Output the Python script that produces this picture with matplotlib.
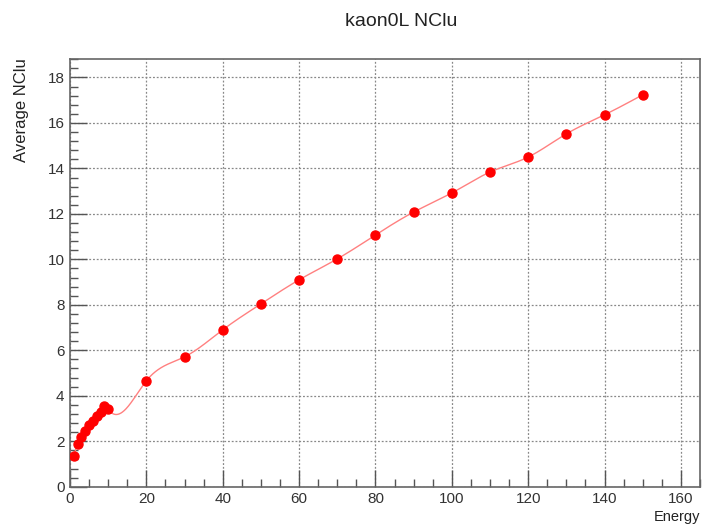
import numpy as np
import matplotlib
matplotlib.use('Agg')
import matplotlib.pyplot as plt
from matplotlib.ticker import MultipleLocator

plt.rcParams['font.family'] = ['Liberation Sans', 'DejaVu Sans']

energy = [1, 2, 3, 4, 5, 6, 7, 8, 9, 10,
          20, 30, 40, 50, 60, 70, 80, 90, 100, 110, 120, 130, 140, 150]
avg_nclu = [1.35, 1.9, 2.2, 2.45, 2.7, 2.9, 3.1, 3.3, 3.55, 3.4,
            4.66, 5.71, 6.9, 8.04, 9.1, 10.02, 11.07, 12.08, 12.92, 13.84, 14.5, 15.52, 16.36, 17.24]


def natural_spline(x, y, n=1500):
    # smooth curve through the points, like ROOT's "C" draw option
    x = np.asarray(x, float)
    y = np.asarray(y, float)
    h = np.diff(x)
    m = len(x)
    A = np.zeros((m, m))
    b = np.zeros(m)
    A[0, 0] = A[-1, -1] = 1.0
    for i in range(1, m - 1):
        A[i, i - 1] = h[i - 1]
        A[i, i] = 2 * (h[i - 1] + h[i])
        A[i, i + 1] = h[i]
        b[i] = 6 * ((y[i + 1] - y[i]) / h[i] - (y[i] - y[i - 1]) / h[i - 1])
    M = np.linalg.solve(A, b)
    xs = np.linspace(x[0], x[-1], n)
    k = np.clip(np.searchsorted(x, xs) - 1, 0, m - 2)
    t0 = x[k + 1] - xs
    t1 = xs - x[k]
    hk = h[k]
    ys = (M[k] * t0**3 + M[k + 1] * t1**3) / (6 * hk) \
        + (y[k] / hk - M[k] * hk / 6) * t0 + (y[k + 1] / hk - M[k + 1] * hk / 6) * t1
    return xs, ys


fig = plt.figure(figsize=(7.04, 5.24), dpi=100)
ax = fig.add_axes([70 / 704, 1 - 486.7 / 524, 630 / 704, 427.4 / 524])

xs, ys = natural_spline(energy, avg_nclu)
ax.plot(xs, ys, color='#ff8080', lw=1.0, zorder=3)
ax.plot(energy, avg_nclu, 'o', color='red', ms=6.5, mec='red', zorder=4)

ax.set_xlim(0, 165)
ax.set_ylim(0, 18.8)
ax.xaxis.set_major_locator(MultipleLocator(20))
ax.xaxis.set_minor_locator(MultipleLocator(5))
ax.yaxis.set_major_locator(MultipleLocator(2))
ax.yaxis.set_minor_locator(MultipleLocator(0.4))

ax.grid(True, which='major', color='#888888', ls=(0, (1.5, 1.5)), lw=0.9)
for s in ax.spines.values():
    s.set_color('#666666')
    s.set_linewidth(1.2)
ax.tick_params(which='major', direction='in', length=12, width=1.0, color='#555555',
               labelsize=11, labelcolor='#333333', pad=4)
ax.tick_params(which='minor', direction='in', length=6, width=1.0, color='#555555')

fig.text(401 / 704, 1 - 22 / 524, 'kaon0L NClu', ha='center', va='center', fontsize=14, color='#222222')
fig.text(22 / 704, 1 - 58 / 524, 'Average NClu', rotation=90, ha='center', va='top', fontsize=12, color='#222222')
fig.text(700 / 704, 1 - 517 / 524, 'Energy', ha='right', va='center', fontsize=10.5, color='#222222')

fig.savefig('out.png', dpi=100)
